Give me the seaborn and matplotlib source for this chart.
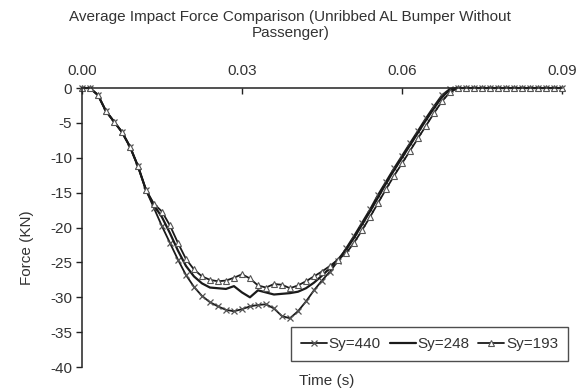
import numpy as np
import pandas as pd
import seaborn as sns
from matplotlib import pyplot as plt

# time samples (s)
time_s = [0.0, 0.0015, 0.003, 0.0045, 0.006, 0.0075, 0.009, 0.0105, 0.012, 0.0135,
          0.015, 0.0165, 0.018, 0.0195, 0.021, 0.0225, 0.024, 0.0255, 0.027, 0.0285,
          0.030, 0.0315, 0.033, 0.0345, 0.036, 0.0375, 0.039, 0.0405, 0.042, 0.0435,
          0.045, 0.0465, 0.048, 0.0495, 0.051, 0.0525, 0.054, 0.0555, 0.057, 0.0585,
          0.060, 0.0615, 0.063, 0.0645, 0.066, 0.0675, 0.069, 0.0705, 0.072, 0.0735,
          0.075, 0.0765, 0.078, 0.0795, 0.081, 0.0825, 0.084, 0.0855, 0.087, 0.0885, 0.09]

# force (KN)
sy440 = [0, 0, -1.0, -3.3, -4.8, -6.3, -8.4, -11.2, -14.6, -17.2,
         -19.8, -22.2, -24.6, -26.8, -28.5, -29.8, -30.7, -31.3, -31.8, -32.0,
         -31.7, -31.3, -31.1, -31.0, -31.6, -32.7, -33.0, -32.0, -30.6, -29.0,
         -27.6, -26.3, -24.8, -23.0, -21.2, -19.3, -17.4, -15.3, -13.4, -11.5,
         -9.7, -7.9, -6.1, -4.3, -2.6, -1.0, -0.1, 0, 0, 0,
         0, 0, 0, 0, 0, 0, 0, 0, 0, 0, 0]
sy248 = [0, 0, -1.0, -3.3, -4.8, -6.3, -8.4, -11.2, -14.6, -16.8,
         -18.5, -20.8, -23.3, -25.5, -27.0, -28.0, -28.6, -28.7, -28.8, -28.4,
         -29.3, -30.0, -29.0, -29.3, -29.6, -29.5, -29.4, -29.2, -28.7, -27.9,
         -26.9, -25.8, -24.6, -23.2, -21.5, -19.6, -17.7, -15.7, -13.7, -11.8,
         -10.0, -8.2, -6.4, -4.6, -2.9, -1.3, -0.2, 0, 0, 0,
         0, 0, 0, 0, 0, 0, 0, 0, 0, 0, 0]
sy193 = [0, 0, -1.0, -3.3, -4.8, -6.3, -8.4, -11.2, -14.6, -16.6,
         -17.7, -19.7, -22.2, -24.5, -26.0, -27.0, -27.5, -27.7, -27.6, -27.2,
         -26.7, -27.3, -28.3, -28.6, -28.1, -28.2, -28.7, -28.3, -27.7, -27.0,
         -26.3, -25.5, -24.6, -23.7, -22.2, -20.4, -18.5, -16.5, -14.5, -12.6,
         -10.8, -9.0, -7.2, -5.4, -3.6, -1.9, -0.6, 0, 0, 0,
         0, 0, 0, 0, 0, 0, 0, 0, 0, 0, 0]

series = {'Sy=440': (sy440, 'x'), 'Sy=248': (sy248, None), 'Sy=193': (sy193, '^')}

sns.set_style('white')
plt.rcParams['font.family'] = ['Liberation Sans', 'DejaVu Sans']
plt.rcParams['font.size'] = 11
plt.rcParams['axes.unicode_minus'] = False

fig = plt.figure(figsize=(5.77, 3.88), dpi=100)
ax = fig.add_axes([0.142, 0.054, 0.832, 0.719])

for name, (vals, mk) in series.items():
    df = pd.DataFrame({'t': time_s, 'f': vals})
    if mk is None:
        sns.lineplot(data=df, x='t', y='f', ax=ax, color='#1a1a1a', linewidth=1.6,
                     label=name, clip_on=False)
    elif mk == '^':
        sns.lineplot(data=df, x='t', y='f', ax=ax, color='#1a1a1a', linewidth=1.3,
                     marker='^', markersize=5, markerfacecolor='white',
                     markeredgecolor='#555555', markeredgewidth=0.8,
                     label=name, clip_on=False)
    else:
        sns.lineplot(data=df, x='t', y='f', ax=ax, color='#1a1a1a', linewidth=1.3,
                     marker='x', markersize=5, markeredgecolor='#555555',
                     markeredgewidth=0.9, label=name, clip_on=False)

ax.set_xlim(0, 0.09)
ax.set_ylim(-40, 0)
ax.set_xticks([0.0, 0.03, 0.06, 0.09])
ax.set_xticklabels(['0.00', '0.03', '0.06', '0.09'])
ax.set_yticks(range(-40, 1, 5))
ax.xaxis.tick_top()
ax.tick_params(axis='x', direction='in', length=4, width=1, color='#222222',
               pad=7, labelcolor='#333333')
ax.tick_params(axis='y', direction='out', length=4, width=1, color='#222222',
               pad=3, labelcolor='#333333')
ax.tick_params(axis='x', which='both', top=True, bottom=False)
ax.tick_params(axis='y', left=True)
for s in ['right', 'bottom']:
    ax.spines[s].set_visible(False)
for s in ['left', 'top']:
    ax.spines[s].set_color('#222222')
    ax.spines[s].set_linewidth(1.1)
ax.set_xlabel('')
ax.set_ylabel('')

fig.text(0.503, 0.975, 'Average Impact Force Comparison (Unribbed AL Bumper Without\nPassenger)',
         ha='center', va='top', color='#333333', linespacing=1.25)
fig.text(327 / 577, 1 - 381 / 388, 'Time (s)', ha='center', va='center', color='#333333')
fig.text(27 / 577, 1 - 248 / 388, 'Force (KN)', ha='center', va='center',
         rotation=90, color='#333333')

leg = ax.legend(loc='lower right', ncol=3, frameon=True, fancybox=False,
                edgecolor='#222222', handlelength=1.7, columnspacing=0.6,
                handletextpad=0.1, borderpad=0.65, borderaxespad=0,
                bbox_to_anchor=(568 / 577, 1 - 361 / 388),
                bbox_transform=fig.transFigure)
leg.get_frame().set_linewidth(1.0)
for t in leg.get_texts():
    t.set_color('#333333')

fig.savefig('out.png', dpi=100)
